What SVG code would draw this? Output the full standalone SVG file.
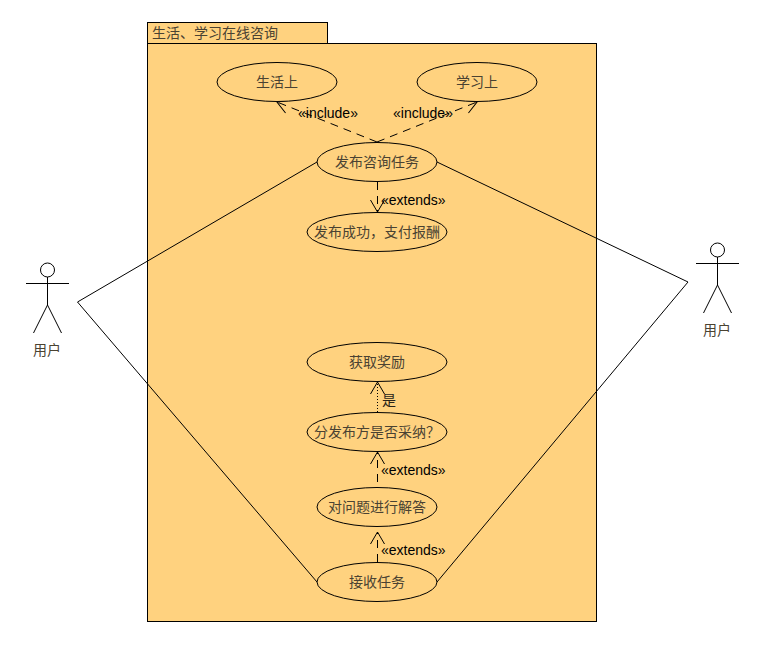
<svg xmlns="http://www.w3.org/2000/svg" width="781" height="652" viewBox="0 0 781 652">
<style>
.pkg{fill:#ffd27f;stroke:#000;stroke-width:1}
.uc{fill:#ffd27f;stroke:#000;stroke-width:1}
.ln{fill:none;stroke:#000;stroke-width:1}
.dash{stroke-dasharray:8 6}
.cjk{font-family:"Liberation Serif","Noto Sans CJK SC",serif;font-size:14px;fill:#4a4232;text-anchor:middle}
.lbl{font-family:"Liberation Sans",Arial,sans-serif;font-size:14px;fill:#000}
.stk{font-family:"Liberation Serif","Noto Sans CJK SC",serif;font-size:14px;fill:#2a2418}
</style>
<defs>
<marker id="open" markerUnits="userSpaceOnUse" markerWidth="16" markerHeight="18" refX="14" refY="9" orient="auto">
<path d="M2 2 L14 9 L2 16" fill="none" stroke="#000" stroke-width="1"/>
</marker>
</defs>
<g id="package">
<rect class="pkg" x="147.5" y="22.5" width="180" height="21"/>
<rect class="pkg" x="147.5" y="43.5" width="449" height="578"/>
<text class="cjk" x="152" y="38" style="text-anchor:start">生活、学习在线咨询</text>
</g>
<g id="connectors">
<path class="ln" d="M317 162 L77.5 302 L317 582"/>
<path class="ln" d="M437 162 L688 282 L437 582"/>
<path class="ln dash" d="M377 142 L277 102" marker-end="url(#open)"/>
<path class="ln dash" d="M377 142 L477 102" marker-end="url(#open)"/>
<path class="ln dash" d="M377.5 182 L377.5 212" marker-end="url(#open)"/>
<path class="ln" style="stroke-dasharray:1 2" d="M377.5 412 L377.5 382" marker-end="url(#open)"/>
<path class="ln dash" d="M377.5 482 L377.5 452" marker-end="url(#open)"/>
<path class="ln dash" d="M377.5 562 L377.5 532" marker-end="url(#open)"/>
<text class="lbl" x="298" y="118">«include»</text>
<text class="lbl" x="393" y="118">«include»</text>
<text class="lbl" x="381" y="205">«extends»</text>
<text class="stk" x="382" y="405">是</text>
<text class="lbl" x="381" y="475">«extends»</text>
<text class="lbl" x="381" y="555">«extends»</text>
</g>
<g id="uc-life"><ellipse class="uc" cx="277" cy="82" rx="60" ry="19.5"/><text class="cjk" x="277" y="87">生活上</text></g>
<g id="uc-study"><ellipse class="uc" cx="477" cy="82" rx="60" ry="19.5"/><text class="cjk" x="477" y="87">学习上</text></g>
<g id="uc-publish"><ellipse class="uc" cx="377" cy="162" rx="60" ry="19.5"/><text class="cjk" x="377" y="167">发布咨询任务</text></g>
<g id="uc-paid"><ellipse class="uc" cx="377" cy="232" rx="70" ry="19.5"/><text class="cjk" x="377" y="237">发布成功，支付报酬</text></g>
<g id="uc-reward"><ellipse class="uc" cx="377" cy="362" rx="70" ry="19.5"/><text class="cjk" x="377" y="367">获取奖励</text></g>
<g id="uc-accept"><ellipse class="uc" cx="377" cy="432" rx="70" ry="19.5"/><text class="cjk" x="377" y="437">分发布方是否采纳？</text></g>
<g id="uc-answer"><ellipse class="uc" cx="377" cy="507" rx="60" ry="19.5"/><text class="cjk" x="377" y="512">对问题进行解答</text></g>
<g id="uc-receive"><ellipse class="uc" cx="377" cy="582" rx="60" ry="19.5"/><text class="cjk" x="377" y="587">接收任务</text></g>
<g id="actor-left">
<circle class="ln" cx="47.5" cy="270" r="7"/>
<path class="ln" d="M47.5 277 V305 M26 283.5 H69 M47.5 305 L33.5 333 M47.5 305 L61.5 333"/>
<text class="cjk" x="47" y="355">用户</text>
</g>
<g id="actor-right">
<circle class="ln" cx="717.5" cy="250" r="7"/>
<path class="ln" d="M717.5 257 V285 M696 263.5 H739 M717.5 285 L703.5 313 M717.5 285 L731.5 313"/>
<text class="cjk" x="717" y="335">用户</text>
</g>
</svg>
